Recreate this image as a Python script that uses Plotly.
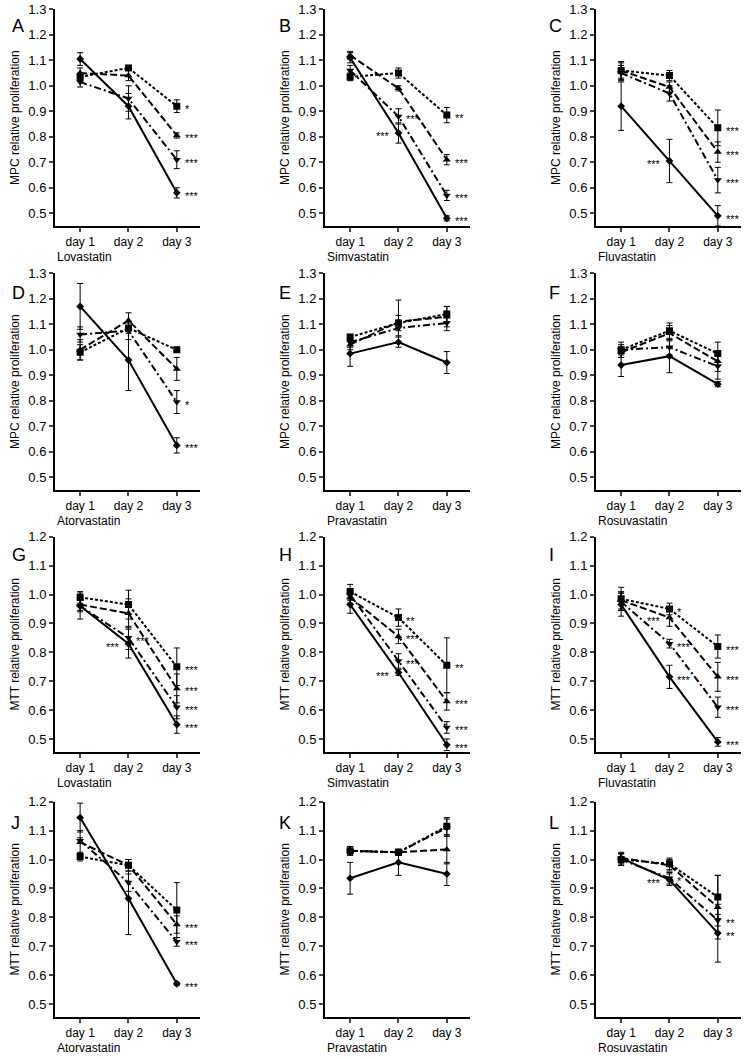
import plotly.graph_objects as go

days = [1, 2, 3]
day_labels = ["day 1", "day 2", "day 3"]
drugs = ["Lovastatin", "Simvastatin", "Fluvastatin",
         "Atorvastatin", "Pravastatin", "Rosuvastatin"]
panel_letters = list("ABCDEFGHIJKL")

# rows in each *_mean / *_err: square, triangle-up, triangle-down, diamond
A_mean = [[1.035, 1.07, 0.92], [1.05, 1.04, 0.805], [1.015, 0.95, 0.71], [1.105, 0.92, 0.58]]
A_err = [[0.015, 0.01, 0.025], [0.02, 0.02, 0.01], [0.02, 0.05, 0.035], [0.025, 0.05, 0.02]]
A_stars = [(0, 2, "*", "r"), (1, 2, "***", "r"), (2, 2, "***", "r"), (3, 2, "***", "r")]

B_mean = [[1.035, 1.05, 0.885], [1.12, 0.99, 0.71], [1.06, 0.88, 0.57], [1.11, 0.815, 0.48]]
B_err = [[0.015, 0.02, 0.03], [0.015, 0.01, 0.02], [0.02, 0.03, 0.02], [0.02, 0.04, 0.01]]
B_stars = [(2, 1, "***", "r"), (3, 1, "***", "l"),
           (0, 2, "**", "r"), (1, 2, "***", "r"), (2, 2, "***", "r"), (3, 2, "***", "r")]

C_mean = [[1.06, 1.04, 0.835], [1.06, 0.995, 0.74], [1.05, 0.97, 0.63], [0.92, 0.705, 0.49]]
C_err = [[0.035, 0.02, 0.07], [0.03, 0.02, 0.04], [0.03, 0.03, 0.05], [0.095, 0.085, 0.04]]
C_stars = [(3, 1, "***", "l"),
           (0, 2, "***", "r"), (1, 2, "***", "r"), (2, 2, "***", "r"), (3, 2, "***", "r")]

D_mean = [[0.99, 1.085, 1.0], [1.0, 1.115, 0.925], [1.06, 1.075, 0.795], [1.17, 0.96, 0.625]]
D_err = [[0.03, 0.02, 0.01], [0.04, 0.03, 0.045], [0.03, 0.035, 0.045], [0.09, 0.12, 0.03]]
D_stars = [(2, 2, "*", "r"), (3, 2, "***", "r")]

E_mean = [[1.05, 1.105, 1.14], [1.02, 1.11, 1.13], [1.03, 1.085, 1.105], [0.985, 1.03, 0.95]]
E_err = [[0.01, 0.03, 0.03], [0.02, 0.085, 0.04], [0.02, 0.03, 0.03], [0.05, 0.02, 0.043]]
E_stars = []

F_mean = [[1.0, 1.075, 0.985], [0.99, 1.065, 0.955], [1.0, 1.01, 0.935], [0.94, 0.975, 0.865]]
F_err = [[0.03, 0.03, 0.045], [0.02, 0.03, 0.04], [0.02, 0.03, 0.05], [0.045, 0.065, 0.01]]
F_stars = []

G_mean = [[0.99, 0.965, 0.75], [0.965, 0.935, 0.675], [0.96, 0.85, 0.61], [0.96, 0.83, 0.55]]
G_err = [[0.02, 0.05, 0.065], [0.02, 0.05, 0.05], [0.02, 0.04, 0.04], [0.045, 0.05, 0.03]]
G_stars = [(2, 1, "***", "r"), (3, 1, "***", "l"),
           (0, 2, "***", "r"), (1, 2, "***", "r"), (2, 2, "***", "r"), (3, 2, "***", "r")]

H_mean = [[1.01, 0.92, 0.755], [0.99, 0.855, 0.63], [1.0, 0.77, 0.54], [0.965, 0.73, 0.48]]
H_err = [[0.025, 0.03, 0.095], [0.02, 0.025, 0.03], [0.02, 0.025, 0.02], [0.03, 0.01, 0.02]]
H_stars = [(0, 1, "**", "r"), (1, 1, "***", "r"), (2, 1, "***", "r"), (3, 1, "***", "l"),
           (0, 2, "**", "r"), (1, 2, "***", "r"), (2, 2, "***", "r"), (3, 2, "***", "r")]

I_mean = [[0.985, 0.95, 0.82], [0.98, 0.92, 0.715], [0.975, 0.83, 0.61], [0.965, 0.715, 0.49]]
I_err = [[0.04, 0.02, 0.04], [0.03, 0.03, 0.05], [0.03, 0.015, 0.035], [0.04, 0.04, 0.015]]
I_stars = [(0, 1, "*", "r"), (1, 1, "***", "l"), (2, 1, "***", "r"), (3, 1, "***", "r"),
           (0, 2, "***", "r"), (1, 2, "***", "r"), (2, 2, "***", "r"), (3, 2, "***", "r")]

J_mean = [[1.01, 0.98, 0.825], [1.06, 0.98, 0.775], [1.065, 0.92, 0.715], [1.145, 0.865, 0.57]]
J_err = [[0.015, 0.02, 0.095], [0.04, 0.02, 0.03], [0.01, 0.03, 0.015], [0.05, 0.125, 0.005]]
J_stars = [(1, 2, "***", "r"), (2, 2, "***", "r"), (3, 2, "***", "r")]

K_mean = [[1.03, 1.025, 1.115], [1.03, 1.025, 1.035], [1.03, 1.025, 1.11], [0.935, 0.99, 0.95]]
K_err = [[0.015, 0.01, 0.03], [0.015, 0.01, 0.05], [0.015, 0.01, 0.03], [0.055, 0.045, 0.04]]
K_stars = []

L_mean = [[1.0, 0.985, 0.87], [1.005, 0.98, 0.835], [1.0, 0.935, 0.79], [1.005, 0.93, 0.745]]
L_err = [[0.02, 0.02, 0.075], [0.015, 0.02, 0.11], [0.02, 0.02, 0.02], [0.02, 0.02, 0.1]]
L_stars = [(2, 1, "*", "r"), (3, 1, "***", "l"), (2, 2, "**", "r"), (3, 2, "**", "r")]

panel_means = [A_mean, B_mean, C_mean, D_mean, E_mean, F_mean,
               G_mean, H_mean, I_mean, J_mean, K_mean, L_mean]
panel_errs = [A_err, B_err, C_err, D_err, E_err, F_err,
              G_err, H_err, I_err, J_err, K_err, L_err]
panel_stars = [A_stars, B_stars, C_stars, D_stars, E_stars, F_stars,
               G_stars, H_stars, I_stars, J_stars, K_stars, L_stars]

symbols = ["square", "triangle-up", "triangle-down", "diamond"]
msizes = [7, 7, 7, 6]
dashes = ["3px,2px", "7px,3px", "7px,3px,2px,3px", "solid"]

W, H = 745, 1059
col_px = [(55, 200), (325, 470), (596, 741)]
row_px = [(9.3, 226), (273.3, 490), (536.7, 752), (801.7, 1017)]
row_range = [[0.45, 1.3], [0.45, 1.3], [0.455, 1.2], [0.455, 1.2]]
row_ylabel = ["MPC relative proliferation"] * 2 + ["MTT relative proliferation"] * 2
letter_px = [(10, 26), (277, 26), (547, 26), (10, 293), (277, 293), (547, 293),
             (10, 555), (277, 555), (547, 555), (9, 823), (277, 823), (547, 823)]

FONT = "Arial, 'Liberation Sans', sans-serif"

fig = go.Figure()
annotations = []
layout = {}

for p in range(12):
    r, c = divmod(p, 3)
    ax = "" if p == 0 else str(p + 1)
    x0, x1 = col_px[c]
    y0, y1 = row_px[r]
    layout["xaxis" + ax] = dict(
        domain=[x0 / W, x1 / W], anchor="y" + ax, range=[0.48, 3.48],
        tickvals=days, ticktext=day_labels, ticks="outside", ticklen=4,
        tickwidth=1.5, showline=True, linewidth=2, linecolor="black",
        showgrid=False, zeroline=False, automargin=False,
        tickfont=dict(size=12, color="black"),
    )
    layout["yaxis" + ax] = dict(
        domain=[1 - y1 / H, 1 - y0 / H], anchor="x" + ax, range=row_range[r],
        tick0=0.5, dtick=0.1, tickformat=".1f", ticks="outside", ticklen=4,
        tickwidth=1.5, showline=True, linewidth=2, linecolor="black",
        showgrid=False, zeroline=False, automargin=False,
        tickfont=dict(size=13, color="black"),
        title=dict(text=row_ylabel[r], font=dict(size=12, color="black"), standoff=6),
    )
    for s in range(4):
        fig.add_trace(go.Scatter(
            x=days, y=panel_means[p][s],
            error_y=dict(type="data", array=panel_errs[p][s], color="black",
                         thickness=1, width=3),
            mode="lines+markers",
            line=dict(color="black", width=2, dash=dashes[s]),
            marker=dict(symbol=symbols[s], size=msizes[s], color="black"),
            xaxis="x" + ax, yaxis="y" + ax, showlegend=False,
        ))
    for s, d, txt, side in panel_stars[p]:
        annotations.append(dict(
            x=days[d], y=panel_means[p][s][d], xref="x" + ax, yref="y" + ax,
            text=txt, showarrow=False,
            xanchor="left" if side == "r" else "right",
            xshift=6 if side == "r" else -6, yshift=-3,
            font=dict(size=11, color="black"),
        ))
    # drug name under the axis, left aligned
    annotations.append(dict(
        x=x0 / W, y=1 - (y1 + 31) / H, xref="paper", yref="paper",
        text=drugs[p % 6], showarrow=False, xanchor="left", yanchor="middle",
        font=dict(size=12, color="black"),
    ))
    lx, ly = letter_px[p]
    annotations.append(dict(
        x=lx / W, y=1 - ly / H, xref="paper", yref="paper",
        text=panel_letters[p], showarrow=False, xanchor="left", yanchor="middle",
        font=dict(size=18, color="black"),
    ))

fig.update_layout(
    width=W, height=H,
    margin=dict(l=0, r=0, t=0, b=0),
    paper_bgcolor="white", plot_bgcolor="white",
    font=dict(family=FONT, color="black"),
    showlegend=False,
    annotations=annotations,
    **layout,
)

# the page body has a default margin, which would push the figure off the window
fig.write_html("out.html", config={"displayModeBar": False},
               post_script="document.body.style.margin = '0px';")
